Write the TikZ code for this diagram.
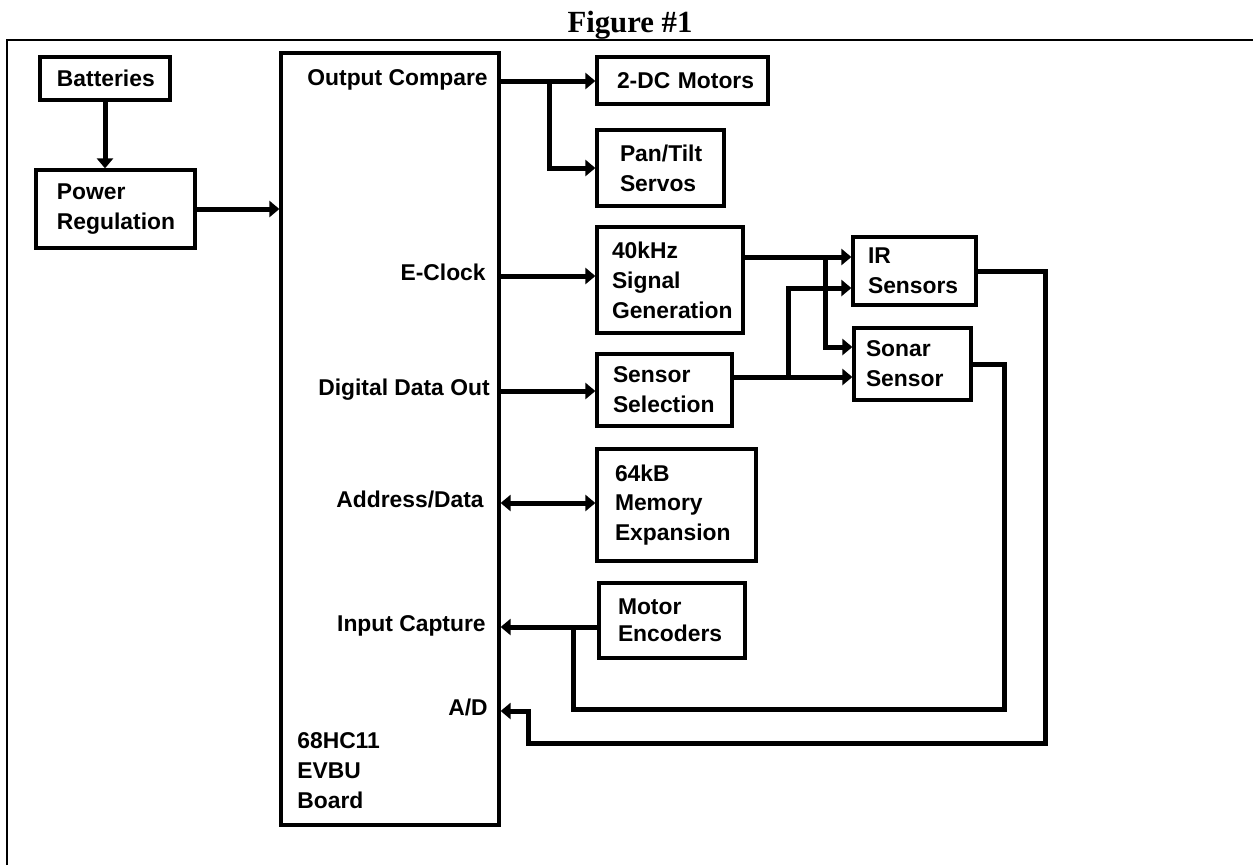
\documentclass[tikz,border=0pt]{standalone}
\usepackage{fontspec}
\setmainfont{Liberation Sans}
\newfontfamily\figfont{Liberation Serif}
\usetikzlibrary{arrows.meta}
\newcommand\boxfont{\fontsize{13}{17}\selectfont\bfseries\hyphenpenalty=10000\exhyphenpenalty=10000}

\begin{document}
\begin{tikzpicture}[x=0.2mm,y=-0.2mm,
    blk/.style={draw,line width=0.65mm,inner sep=0pt,align=left,font=\boxfont},
    port/.style={inner sep=0pt,anchor=mid east,font=\boxfont},
    wire/.style={line width=1mm},
    feed/.style={wire,-{Triangle[length=2mm,width=3.2mm]}},
    bus/.style={wire,{Triangle[length=2mm,width=3.2mm]}-{Triangle[length=2mm,width=3.2mm]}}]
  \useasboundingbox (0,0) rectangle (1253,865);
  \draw[line width=0.26mm] (7,865) -- (7,40) -- (1253,40);
  \node[inner sep=0pt,anchor=base,font=\figfont\bfseries\fontsize{17.5}{20}\selectfont] (ttl) at (630,32) {Figure \#1};

  \node[blk,minimum width=26mm,minimum height=8.6mm,text width=19.2mm] (bat) at (105,78.5) {Batteries};
  \node[blk,minimum width=31.8mm,minimum height=15.6mm,text width=23.4mm] (pwr) at (115.5,209) {Power\\Regulation};
  \node[blk,minimum width=43.6mm,minimum height=154.4mm] (evbu) at (390,439) {};
  \node[blk,minimum width=34.2mm,minimum height=9.4mm,text width=26.2mm] (mot) at (682.5,80.5) {2-DC~Motors};
  \node[blk,minimum width=25.4mm,minimum height=15.2mm,text width=16.2mm] (pan) at (660.5,168) {Pan/Tilt\\Servos};
  \node[blk,minimum width=29.2mm,minimum height=21.2mm,text width=23.2mm] (sig) at (670,280) {40kHz\\Signal\\Generation};
  \node[blk,minimum width=27mm,minimum height=14.4mm,text width=20.6mm] (sel) at (664.5,390) {Sensor\\Selection};
  \node[blk,minimum width=31.8mm,minimum height=22.4mm,text width=24.6mm] (mem) at (676.5,505) {64kB\\Memory\\Expansion};
  \node[blk,minimum width=29.2mm,minimum height=15mm,text width=21.6mm] (enc) at (672,620.5) {Motor\\[-0.6mm]Encoders};
  \node[blk,minimum width=24.6mm,minimum height=13.6mm,text width=18.6mm] (ir) at (914.5,271) {IR\\Sensors};
  \node[blk,minimum width=23.4mm,minimum height=14.4mm,text width=18.6mm] (snr) at (912.5,364) {Sonar\\Sensor};

  \node[port] (oc) at (488,81) {Output Compare};
  \node[port] (eck) at (486,276) {E-Clock};
  \node[port] (ddo) at (490,391) {Digital Data Out};
  \node[port] (adr) at (484,503) {Address/Data};
  \node[port] (icp) at (486,627) {Input Capture};
  \node[port] (adc) at (488,711) {A/D};
  \node[inner sep=0pt,anchor=north west,align=left,font=\boxfont] (brd) at (297,732) {68HC11\\EVBU\\Board};

  \coordinate (ocj) at (549,81);
  \coordinate (j1) at (825,257);
  \coordinate (j2) at (788,377);
  \coordinate (j3) at (573,627);
  \coordinate (c1) at (1004,709);
  \coordinate (c2) at (1045,743);
  \coordinate (c3) at (528,711);

  \draw[feed] (bat.south) -- (bat.south |- pwr.north);
  \draw[feed] (pwr.east) -- (pwr.east -| evbu.west);
  \draw[feed] (evbu.east |- oc.mid east) -- (mot.west |- oc.mid east);
  \draw[feed] (ocj) |- (pan.west);
  \draw[feed] (evbu.east |- eck.mid east) -- (sig.west |- eck.mid east);
  \draw[feed] (sig.east |- j1) -- (ir.west |- j1);
  \draw[feed] (j1) |- ([yshift=3.4mm]snr.west);
  \draw[feed] (evbu.east |- ddo.mid east) -- (sel.west |- ddo.mid east);
  \draw[feed] (sel.east |- j2) -- (snr.west |- j2);
  \draw[feed] (j2) |- ([yshift=-3.4mm]ir.west);
  \draw[bus] (evbu.east |- adr.mid east) -- (mem.west |- adr.mid east);
  \draw[feed] (enc.west |- icp.mid east) -- (evbu.east |- icp.mid east);
  \draw[wire] (snr.east) -| (c1) -| (j3);
  \draw[feed] (ir.east) -| (c2) -| (c3) -- (evbu.east |- adc.mid east);
\end{tikzpicture}
\end{document}
